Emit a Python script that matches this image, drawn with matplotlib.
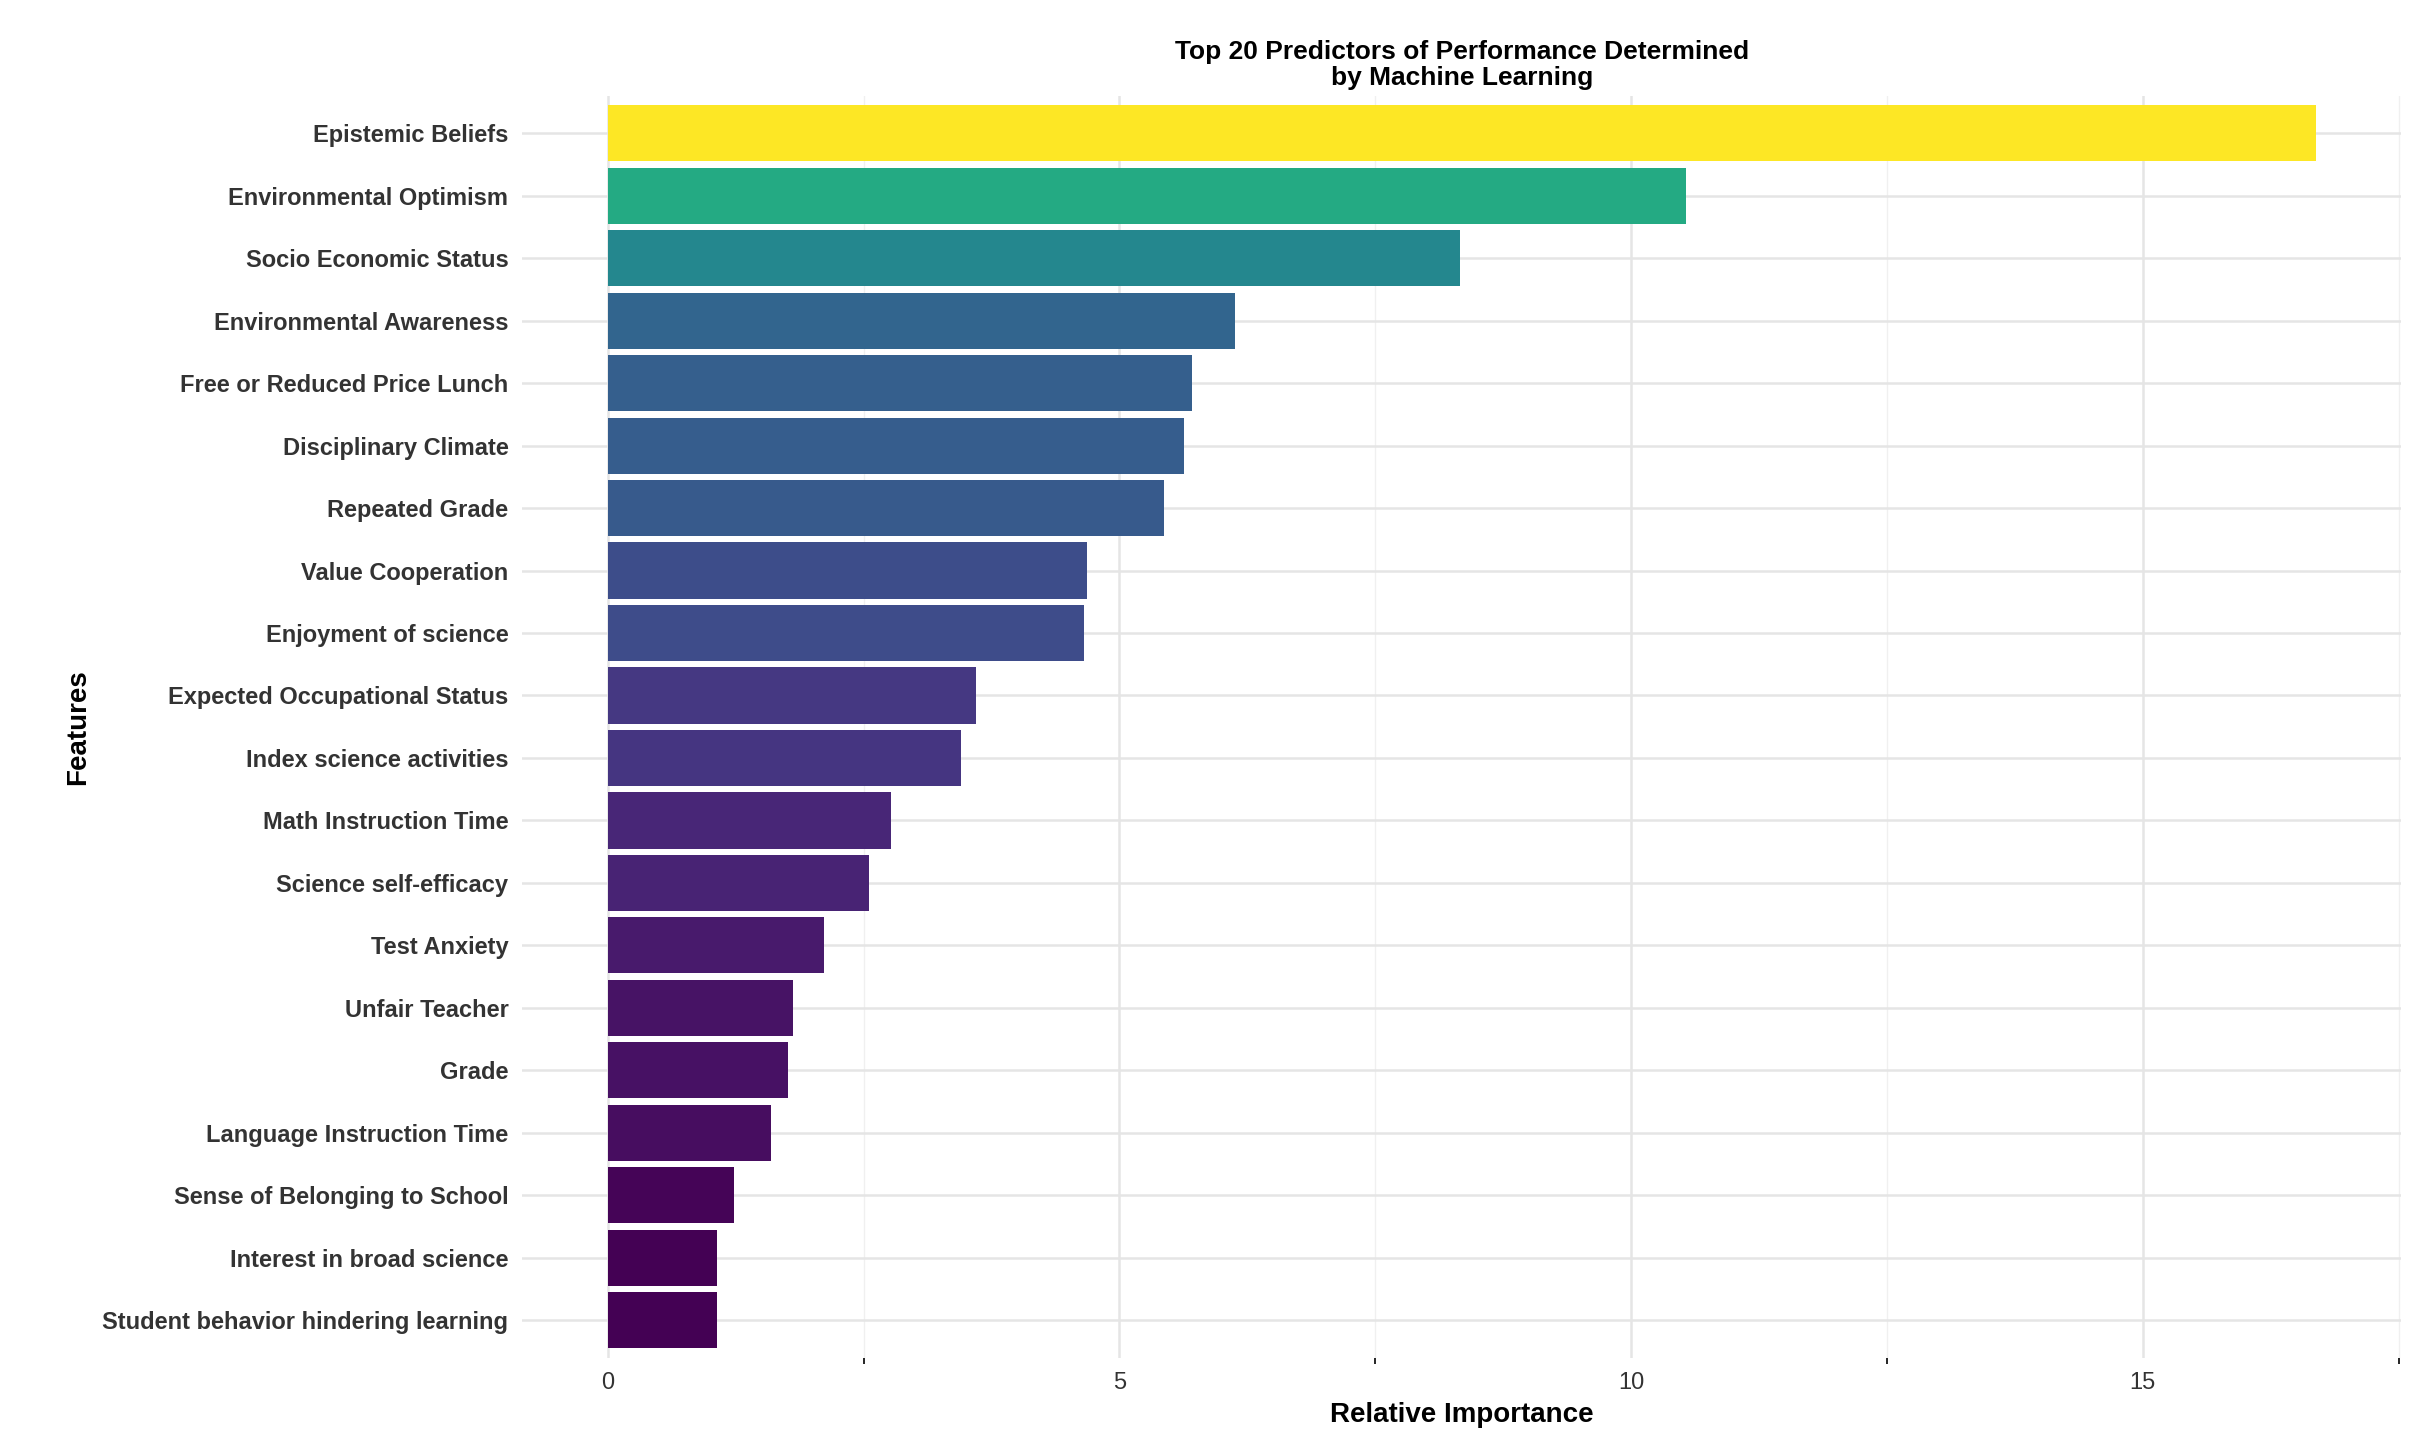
import matplotlib.pyplot as plt
import numpy as np
from matplotlib import cm
from matplotlib.colors import Normalize

features = [
    "Epistemic Beliefs", "Environmental Optimism", "Socio Economic Status",
    "Environmental Awareness", "Free or Reduced Price Lunch", "Disciplinary Climate",
    "Repeated Grade", "Value Cooperation", "Enjoyment of science",
    "Expected Occupational Status", "Index science activities", "Math Instruction Time",
    "Science self-efficacy", "Test Anxiety", "Unfair Teacher", "Grade",
    "Language Instruction Time", "Sense of Belonging to School",
    "Interest in broad science", "Student behavior hindering learning",
]
importance = [16.69, 10.54, 8.33, 6.13, 5.71, 5.63, 5.44, 4.68, 4.65, 3.60,
              3.45, 2.77, 2.55, 2.11, 1.81, 1.76, 1.60, 1.23, 1.07, 1.07]

plt.rcParams["font.family"] = ["Liberation Sans", "DejaVu Sans"]

fig = plt.figure(figsize=(12.09, 7.26), dpi=200)
ax = fig.add_axes([0.216, 0.065, 0.777, 0.869])

vals = np.array(importance)
norm = Normalize(vmin=vals.min(), vmax=vals.max())
colors = cm.viridis(norm(vals))
y = np.arange(len(features))[::-1]
ax.barh(y, vals, height=0.9, color=colors, zorder=3)

ax.set_xlim(-0.05 * vals.max(), vals.max() * 1.05)
ax.set_ylim(-0.6, len(features) - 0.4)
ax.set_xticks([0, 5, 10, 15])
ax.set_xticks([2.5, 7.5, 12.5, 17.5], minor=True)
ax.set_yticks(y)
ax.set_yticklabels(features)
ax.grid(axis="x", which="major", color="#e5e5e5", lw=0.9, zorder=0)
ax.grid(axis="x", which="minor", color="#f0f0f0", lw=0.5, zorder=0)
ax.grid(axis="y", which="major", color="#e5e5e5", lw=0.9, zorder=0)
for s in ax.spines.values():
    s.set_visible(False)
ax.tick_params(length=0, labelsize=8.5, labelcolor="#333333", pad=5)
for t in ax.get_xticklabels() + ax.get_yticklabels():
    t.set_fontweight("bold") if t in ax.get_yticklabels() else None

ax.set_xlabel("Relative Importance", fontsize=10, fontweight="bold", labelpad=3)
ax.set_ylabel("Features", fontsize=10, fontweight="bold")
ax.set_title("Top 20 Predictors of Performance Determined\nby Machine Learning",
             fontsize=9.5, fontweight="bold", pad=4, linespacing=1.1)

fig.savefig("out.png", dpi=200)
